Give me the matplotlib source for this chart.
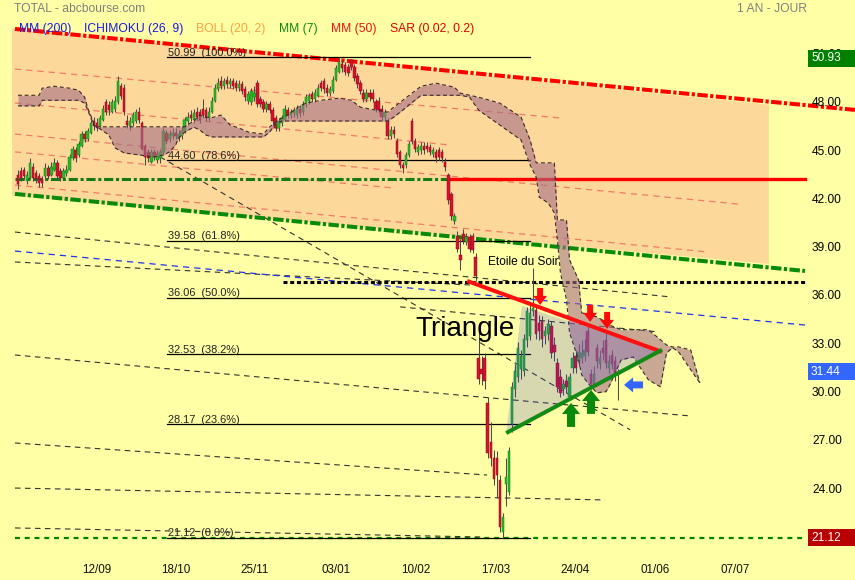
import matplotlib
matplotlib.use("Agg")
import matplotlib.pyplot as plt
from matplotlib.patches import Polygon, Rectangle
from matplotlib.patches import ArrowStyle

plt.rcParams['font.family'] = ['Liberation Sans', 'DejaVu Sans']

# ---------------- data (bar index, price) ----------------
opens = [43.7, 43.9, 44.0, 43.3, 43.5, 44.2, 43.8, 43.6, 43.4, 43.6,
         44.1, 43.7, 44.0, 44.4, 43.9, 43.5, 43.8, 44.0, 44.7, 45.2,
         44.9, 45.5, 46.2, 45.9, 46.3, 47.0, 46.9, 46.7, 47.1, 48.2,
         48.0, 47.6, 47.8, 48.2, 49.2, 49.1, 47.0, 46.7, 46.9, 47.0,
         47.6, 46.9, 45.5, 45.1, 44.5, 45.1, 44.6, 44.7, 45.1, 46.3,
         45.9, 46.1, 46.3, 46.0, 46.1, 46.4, 47.0, 47.4, 47.1, 47.6,
         47.6, 47.8, 47.7, 47.2, 47.6, 48.3, 49.0, 49.5, 49.2, 49.6,
         49.3, 49.5, 49.4, 49.1, 49.3, 49.0, 48.3, 48.2, 48.5, 49.4,
         48.4, 48.2, 47.8, 48.1, 47.7, 47.2, 46.6, 46.9, 47.1, 47.7,
         47.4, 47.5, 47.4, 47.8, 47.6, 48.1, 48.3, 48.7, 48.4, 48.6,
         49.4, 49.5, 49.1, 48.8, 48.9, 49.6, 50.1, 50.6, 50.5, 50.4,
         50.8, 50.4, 49.8, 49.4, 48.8, 48.4, 48.8, 48.8, 48.2, 48.3,
         47.8, 47.3, 47.0, 46.1, 46.5, 45.8, 45.1, 44.3, 44.3, 44.9,
         47.0, 45.8, 45.1, 45.2, 45.5, 45.5, 45.4, 45.0, 45.1, 45.2,
         45.1, 44.5, 43.7, 42.5, 40.8, 39.9, 38.7, 40.0, 39.5, 39.8,
         39.9, 38.6, 32.3, 31.6, 32.3, 29.5, 27.1, 26.1, 26.1, 24.7,
         21.5, 24.5, 24.0, 28.2, 30.4, 31.1, 31.6, 31.5, 33.4, 33.7,
         35.2, 35.3, 34.5, 34.6, 33.7, 33.8, 34.3, 33.1, 32.0, 31.1,
         30.4, 30.9, 29.9, 31.7, 32.4, 32.1, 32.3, 32.4, 34.0, 31.3,
         30.7, 32.9, 31.9, 32.9, 33.4, 31.7, 32.5, 32.1, 31.40]
closes = [43.1, 43.5, 43.6, 43.7, 44.4, 43.5, 43.4, 43.2, 43.2, 44.1,
          43.6, 44.2, 44.4, 43.6, 43.5, 43.9, 44.0, 44.8, 45.3, 44.7,
          45.6, 46.2, 45.9, 46.4, 46.9, 46.7, 46.6, 47.2, 47.8, 47.6,
          47.7, 48.2, 48.3, 49.5, 48.6, 47.6, 46.8, 47.0, 47.4, 47.6,
          47.1, 45.3, 44.8, 44.7, 45.1, 44.8, 45.0, 45.1, 46.4, 45.8,
          46.2, 46.3, 46.1, 46.2, 46.4, 47.1, 47.3, 47.2, 47.5, 47.3,
          47.1, 47.4, 47.2, 47.6, 48.3, 49.1, 49.4, 49.2, 49.5, 49.3,
          49.5, 49.2, 49.1, 49.3, 48.9, 48.5, 48.7, 48.9, 48.8, 48.1,
          48.1, 47.8, 48.1, 47.7, 47.0, 46.6, 47.0, 47.2, 47.8, 47.4,
          47.6, 47.7, 47.8, 47.5, 48.1, 48.5, 48.6, 48.4, 48.8, 49.1,
          49.1, 49.0, 48.8, 49.0, 49.6, 50.3, 50.7, 50.3, 50.1, 50.0,
          50.4, 49.7, 49.3, 48.9, 48.4, 48.8, 48.5, 48.4, 47.8, 47.7,
          47.3, 47.6, 46.1, 46.5, 46.2, 45.0, 44.3, 44.1, 44.9, 45.6,
          45.8, 45.3, 45.4, 45.5, 45.2, 45.3, 45.1, 45.2, 44.7, 44.8,
          44.7, 44.2, 42.1, 41.1, 41.1, 39.1, 38.4, 39.6, 39.8, 39.1,
          39.0, 37.4, 31.0, 31.3, 30.9, 26.4, 26.1, 24.8, 25.0, 21.8,
          22.4, 24.9, 26.5, 30.5, 31.5, 32.9, 32.4, 33.5, 35.2, 35.1,
          35.4, 33.8, 34.0, 33.5, 34.0, 34.4, 32.6, 32.7, 30.5, 30.1,
          30.7, 30.5, 31.1, 32.3, 31.7, 32.7, 32.6, 32.8, 32.7, 30.7,
          31.3, 32.1, 32.3, 32.6, 32.0, 32.1, 31.9, 31.3, 31.44]
highs = [44.0, 44.2, 44.2, 43.9, 44.7, 44.4, 44.0, 43.8, 43.6, 44.4,
         44.3, 44.5, 44.7, 44.6, 44.1, 44.1, 44.3, 45.0, 45.5, 45.4,
         45.8, 46.4, 46.4, 46.6, 47.1, 47.3, 47.2, 47.4, 48.0, 48.4,
         48.3, 48.4, 48.6, 49.8, 49.4, 49.3, 47.4, 47.3, 47.6, 47.8,
         47.9, 47.0, 45.6, 45.3, 45.3, 45.3, 45.2, 45.3, 46.6, 46.5,
         46.5, 46.6, 46.6, 46.5, 46.7, 47.3, 47.6, 47.7, 47.8, 47.9,
         47.8, 48.4, 47.9, 47.9, 48.5, 49.3, 49.7, 49.8, 49.7, 49.8,
         49.7, 49.7, 49.6, 49.6, 49.5, 49.2, 48.9, 49.1, 49.2, 49.6,
         48.6, 48.4, 48.3, 48.3, 47.9, 47.4, 47.2, 47.4, 48.0, 47.9,
         47.8, 47.9, 48.0, 48.0, 48.3, 48.7, 48.8, 48.9, 49.0, 49.3,
         49.6, 49.7, 49.3, 49.2, 49.8, 50.5, 50.99, 50.8, 50.7, 50.6,
         50.9, 50.6, 50.0, 49.6, 49.0, 49.0, 49.0, 49.0, 48.4, 48.5,
         48.0, 47.8, 47.2, 46.7, 46.7, 46.0, 45.2, 44.5, 45.1, 45.8,
         47.2, 46.0, 45.6, 45.7, 45.7, 45.7, 45.6, 45.4, 45.3, 45.4,
         45.3, 44.7, 43.8, 42.6, 41.3, 40.2, 39.7, 40.3, 40.1, 40.0,
         40.1, 38.8, 34.1, 32.4, 32.6, 29.9, 28.3, 26.6, 26.5, 25.0,
         22.7, 26.1, 26.8, 30.8, 31.9, 33.3, 32.8, 33.8, 35.5, 35.6,
         37.9, 35.6, 35.0, 34.9, 34.3, 34.7, 34.6, 33.6, 32.3, 31.6,
         31.0, 31.3, 31.4, 32.7, 32.8, 33.2, 33.4, 33.5, 34.3, 31.6,
         31.8, 33.2, 32.8, 33.4, 33.9, 32.5, 32.8, 32.4, 31.6]
lows = [42.8, 43.3, 43.4, 43.1, 43.4, 43.3, 43.2, 42.9, 42.9, 43.5,
        43.4, 43.6, 43.9, 43.4, 43.3, 43.4, 43.6, 43.9, 44.6, 44.5,
        44.8, 45.4, 45.7, 45.8, 46.2, 46.5, 46.4, 46.6, 47.0, 47.4,
        47.4, 47.5, 47.6, 48.1, 48.4, 47.4, 46.6, 46.5, 46.7, 46.9,
        46.9, 45.2, 44.3, 44.5, 44.4, 44.6, 44.4, 44.4, 45.0, 45.6,
        45.7, 45.9, 45.9, 45.8, 45.9, 46.3, 46.8, 47.0, 46.9, 47.1,
        46.9, 47.2, 47.0, 47.0, 47.5, 48.2, 48.9, 49.0, 49.0, 49.1,
        49.1, 49.0, 48.9, 48.9, 48.7, 48.3, 48.1, 48.0, 48.3, 47.9,
        47.9, 47.6, 47.6, 47.5, 46.8, 46.4, 46.4, 46.7, 47.0, 47.2,
        47.2, 47.3, 47.2, 47.3, 47.4, 47.9, 48.1, 48.2, 48.2, 48.5,
        48.9, 48.8, 48.6, 48.6, 48.8, 49.5, 50.0, 50.1, 49.9, 49.8,
        50.2, 49.5, 49.1, 48.7, 48.2, 48.2, 48.3, 48.2, 47.6, 47.5,
        47.1, 47.1, 45.9, 45.9, 46.0, 44.8, 44.1, 43.8, 44.1, 44.8,
        45.6, 45.1, 44.9, 45.0, 45.0, 45.1, 44.9, 44.8, 44.5, 44.6,
        44.5, 43.9, 41.9, 40.9, 40.6, 38.9, 37.8, 39.4, 39.3, 38.9,
        38.8, 37.1, 30.7, 30.6, 30.4, 26.1, 25.6, 24.4, 23.6, 21.5,
        21.12, 23.1, 23.8, 27.7, 29.9, 30.8, 31.0, 31.2, 33.0, 33.4,
        34.9, 33.5, 33.4, 33.0, 33.2, 33.4, 32.3, 32.1, 30.2, 29.9,
        30.0, 30.1, 29.7, 31.4, 31.4, 31.8, 32.0, 32.1, 32.4, 30.4,
        30.5, 31.7, 31.6, 32.2, 31.7, 31.4, 31.6, 30.9, 29.7]

# Ichimoku cloud (spans already shifted 26 bars ahead)
cloud_i = [0, 7, 8, 12, 17, 20, 22, 23, 25, 26, 30, 32, 35, 40, 45, 48, 50, 52, 53, 55,
           58, 60, 62, 64, 67, 70, 73, 76, 81, 83, 85, 87, 89, 92, 95, 100, 106, 110, 113, 118,
           122, 124, 127, 133, 138, 144, 146, 149, 152, 159, 166, 169, 171, 172, 175, 177, 178, 179, 181, 182,
           185, 186, 188, 191, 194, 195, 199, 203, 208, 212, 214, 216, 218, 222, 225]
cloud_top = [48.63, 48.63, 49.07, 49.19, 49.07, 48.94, 48.51, 47.83, 46.90, 46.67, 46.67, 46.67, 46.67, 46.67, 46.67, 46.67, 46.67, 46.67, 46.67, 46.67,
             47.03, 47.40, 47.27, 47.24, 47.40, 46.78, 46.59, 46.34, 46.22, 46.65, 46.96, 47.21, 47.40, 47.83, 48.14, 48.32, 48.45, 48.32, 47.89, 47.71,
             47.58, 47.89, 48.32, 49.19, 49.38, 49.13, 48.76, 48.63, 48.51, 48.14, 47.27, 45.85, 44.43, 44.43, 44.43, 44.43, 40.88, 40.88, 40.88, 38.41,
             37.15, 35.11, 34.99, 34.86, 34.55, 34.37, 34.06, 34.06, 34.06, 33.44, 33.11, 32.99, 32.99, 32.80, 30.76]
cloud_bot = [47.97, 47.97, 48.32, 48.32, 48.32, 48.32, 48.14, 47.71, 46.78, 46.67, 46.16, 45.36, 45.05, 44.92, 44.80, 44.92, 45.11, 45.54, 45.97, 46.34,
             46.65, 46.47, 46.16, 46.04, 46.04, 46.04, 46.04, 46.04, 46.04, 46.34, 46.84, 47.03, 47.03, 47.03, 47.03, 47.03, 47.03, 47.03, 47.03, 47.03,
             47.03, 47.27, 47.71, 48.63, 48.63, 48.63, 48.63, 48.51, 47.71, 46.78, 45.85, 44.30, 43.54, 42.30, 41.93, 41.32, 39.65, 37.59, 35.92, 33.87,
             32.18, 31.26, 30.76, 30.14, 30.21, 30.51, 32.18, 32.37, 30.95, 30.51, 32.62, 32.94, 32.68, 31.57, 30.76]

# Fibonacci retracement levels
fib_levels = [50.99, 44.60, 39.58, 36.06, 32.53, 28.17, 21.12]
fib_pcts = ["100.0%", "78.6%", "61.8%", "50.0%", "38.2%", "23.6%", "0.0%"]
fib_start, fib_end = 49.2, 169.0

# x tick labels
date_labels = ["12/09", "18/10", "25/11", "03/01", "10/02", "17/03", "24/04", "01/06", "07/07"]
date_pos = [26.1, 52.1, 78.2, 105.0, 131.4, 157.8, 183.8, 210.2, 236.6]
price_ticks = [24, 27, 30, 33, 36, 39, 42, 45, 48, 51]

# drawn lines (start index, start price, end index, end price)
chan_top = (-1.0, 52.75, 276.2, 47.72)
chan_bot = (-1.0, 42.50, 259.7, 37.71)
orange_poly_i = [-2.0, 247.8, 247.8, -2.0]
orange_poly_v = [52.77, 48.05, 38.15, 42.40]
salmon_lines = [(-1.0, 50.26, 178.9, 47.22), (-1.0, 48.15, 142.6, 45.54), (-1.0, 46.22, 237.6, 41.87),
                (-1.0, 45.11, 123.8, 42.87), (-1.0, 43.05, 227.7, 38.89)]
fan_lines = [(-1.0, 40.13, 215.8, 36.09), (-1.0, 38.27, 149.2, 36.84), (46.9, 44.80, 202.0, 27.84),
             (-1.0, 32.49, 221.8, 28.70), (-1.0, 27.02, 154.8, 25.03), (-1.0, 24.22, 193.7, 23.48),
             (126.1, 35.48, 210.9, 33.93), (-1.0, 21.74, 152.5, 21.18)]
blue_line = (-1.0, 38.95, 259.7, 34.35)
dotted_level, dotted_start, dotted_end = 37.03, 87.5, 259.7
support_level, support_split = 43.43, 141.9
line_end = 259.7
tri_red = (148.2, 37.09, 212.5, 32.68)
tri_green = (161.1, 27.64, 212.5, 32.81)
tri_poly_i = [161.1, 166.3, 211.9]
tri_poly_v = [27.70, 35.53, 32.74]
red_arrows = [(172.3, 35.60), (188.8, 34.55), (194.4, 34.11)]
green_arrows = [(182.5, 29.51), (189.1, 30.32)]
blue_arrow = (200.0, 30.63)

last_price, high_price, low_price = 31.44, 50.93, 21.12

# ---------------- figure ----------------
W, H = 855, 580
BG = '#FFFFA5'
fig = plt.figure(figsize=(W / 100, H / 100), dpi=100, facecolor=BG)
ax = fig.add_axes([12 / W, 1 - 550 / H, (808 - 12) / W, (550 - 28) / H], facecolor=BG)
ax.set_xlim(-1.98, 260.7)
ax.set_ylim(20.37, 52.81)
ax.axis('off')

def fx(x):
    return x / W

def fy(y):
    return 1 - y / H

# orange channel fill
ax.add_patch(Polygon(list(zip(orange_poly_i, orange_poly_v)), closed=True,
                     facecolor='#FDD89B', edgecolor='none', zorder=1))

for (x0, y0, x1, y1) in salmon_lines:
    ax.plot([x0, x1], [y0, y1], color='#F27A68', lw=0.9, linestyle=(0, (5, 4)), zorder=2)
for (x0, y0, x1, y1) in fan_lines:
    ax.plot([x0, x1], [y0, y1], color='#333333', lw=0.8, linestyle=(0, (5, 4)), zorder=2)
ax.plot([blue_line[0], blue_line[2]], [blue_line[1], blue_line[3]], color='#2233EE', lw=0.9,
        linestyle=(0, (5, 4)), zorder=2, clip_on=False)

# channel lines
ax.plot([chan_top[0], chan_top[2]], [chan_top[1], chan_top[3]], color='#FF0000', lw=2.9,
        linestyle=(0, (2.6, 0.6, 0.8, 0.6)), zorder=3, clip_on=False)
ax.plot([chan_bot[0], chan_bot[2]], [chan_bot[1], chan_bot[3]], color='#0A8A0A', lw=2.9,
        linestyle=(0, (2.6, 0.6, 0.8, 0.6)), zorder=3, clip_on=False)

# horizontal levels
ax.plot([-1.0, support_split], [support_level, support_level], color='#157A15', lw=2.2,
        linestyle=(0, (3.0, 0.9, 1.0, 0.9)), zorder=3)
ax.plot([support_split, line_end], [support_level, support_level], color='#FF0000', lw=2.4, zorder=3,
        clip_on=False)
ax.plot([dotted_start, dotted_end], [dotted_level, dotted_level], color='#000000', lw=2.2,
        linestyle=(0, (1.3, 0.9)), zorder=3, clip_on=False)
ax.plot([-1.0, line_end], [low_price, low_price], color='#008000', lw=1.6,
        linestyle=(0, (2.2, 2.2)), zorder=3, clip_on=False)

# fibonacci
for lv, pc in zip(fib_levels, fib_pcts):
    ax.plot([fib_start, fib_end], [lv, lv], color='#000000', lw=0.9, zorder=3.5)
    ax.annotate(f"{lv:.2f}  ({pc})", xy=(fib_start, lv), xytext=(1, 1.5), textcoords='offset pixels',
                fontsize=7.9, color='#222222', va='baseline', ha='left', zorder=9)

# candles
for i, (o, h, l, c) in enumerate(zip(opens, highs, lows, closes)):
    up = c >= o
    ax.vlines(i, l, h, color='#4A4A4A', lw=0.75, zorder=4)
    bottom = min(o, c)
    height = max(abs(c - o), 0.06)
    ax.bar(i, height, bottom=bottom, width=0.8,
           color='#26BB26' if up else '#D3122E',
           edgecolor='#1A7A1A' if up else '#8C0B20', linewidth=0.35, zorder=4.2)

# ichimoku cloud
ax.fill_between(cloud_i, cloud_bot, cloud_top, color=(165 / 255, 110 / 255, 135 / 255), alpha=0.6,
                linewidth=0, zorder=5)
ax.plot(cloud_i, cloud_top, color='#3A2A2A', lw=0.8, linestyle=(0, (3.5, 2.5)), zorder=5.5)
ax.plot(cloud_i, cloud_bot, color='#3A2A2A', lw=0.8, linestyle=(0, (3.5, 2.5)), zorder=5.5)

# triangle
ax.add_patch(Polygon(list(zip(tri_poly_i, tri_poly_v)), closed=True,
                     facecolor=(60 / 255, 60 / 255, 225 / 255), alpha=0.2, edgecolor='none', zorder=6))
ax.plot([tri_red[0], tri_red[2]], [tri_red[1], tri_red[3]], color='#FF1010', lw=2.9,
        solid_capstyle='butt', zorder=7)
ax.plot([tri_green[0], tri_green[2]], [tri_green[1], tri_green[3]], color='#138A13', lw=2.9,
        solid_capstyle='butt', zorder=7)

def arrow(tip, dxp, dyp, color, hl, hw, tw):
    ax.annotate('', xy=tip, xytext=(dxp, dyp), textcoords='offset pixels',
                arrowprops=dict(arrowstyle=ArrowStyle('simple', head_length=hl, head_width=hw,
                                                      tail_width=tw),
                                color=color, shrinkA=0, shrinkB=0, mutation_scale=1, lw=0),
                zorder=8)

for t in red_arrows:
    arrow(t, 0, 17, '#FF0A0A', 6.5, 10.0, 4.3)
for t in green_arrows:
    arrow(t, 0, -24, '#0A8A0A', 8.0, 13.0, 5.8)
arrow(blue_arrow, 19, 0, '#3366FF', 6.5, 10.8, 5.0)

ax.text(131.0, 33.67, "Triangle", fontsize=20, color='#000000', va='baseline', ha='left', zorder=9)
ax.text(155.1, 38.27, "Etoile du Soir", fontsize=8.6, color='#000000', va='center', ha='left', zorder=9)

# right price axis labels
for t in price_ticks:
    ax.annotate(f"{t:.2f}", xy=(1.0, t), xycoords=('axes fraction', 'data'), xytext=(4, 2),
                textcoords='offset pixels', fontsize=8.6, color='#000000', va='center', ha='left',
                annotation_clip=False)

# right side value boxes
for val, col in [(high_price, '#008000'), (last_price, '#3366FF'), (low_price, '#B80000')]:
    ypix = 28 + (52.81 - val) / (52.81 - 20.37) * 522
    fig.patches.append(Rectangle((fx(808), fy(ypix + 8.5)), (855 - 808) / W, 17 / H,
                                 transform=fig.transFigure, facecolor=col, edgecolor='none', zorder=10))
    fig.text(fx(811), fy(ypix), f"{val:.2f}", fontsize=8.6, color='white', va='center', ha='left',
             zorder=11)

# date labels
for lab, p in zip(date_labels, date_pos):
    ax.annotate(lab, xy=(p, 0), xycoords=('data', 'axes fraction'), xytext=(0, -20),
                textcoords='offset pixels', fontsize=8.4, color='#111111', ha='center', va='center',
                annotation_clip=False)

# header
fig.text(fx(14), fy(9), "TOTAL - abcbourse.com", fontsize=8.7, color='#808080', va='center', ha='left')
fig.text(fx(737), fy(9), "1 AN - JOUR", fontsize=8.7, color='#808080', va='center', ha='left')
legend_items = [("MM (200)", '#1A1AE6', 19), ("ICHIMOKU (26, 9)", '#1A1AE6', 84),
                ("BOLL (20, 2)", '#FFA040', 196), ("MM (7)", '#118811', 279),
                ("MM (50)", '#EE1111', 331), ("SAR (0.02, 0.2)", '#DD0000', 390)]
for txt, col, xp in legend_items:
    fig.text(fx(xp), fy(29), txt, fontsize=8.7, color=col, va='center', ha='left', zorder=12)

fig.savefig("out.png", dpi=100, facecolor=BG)
